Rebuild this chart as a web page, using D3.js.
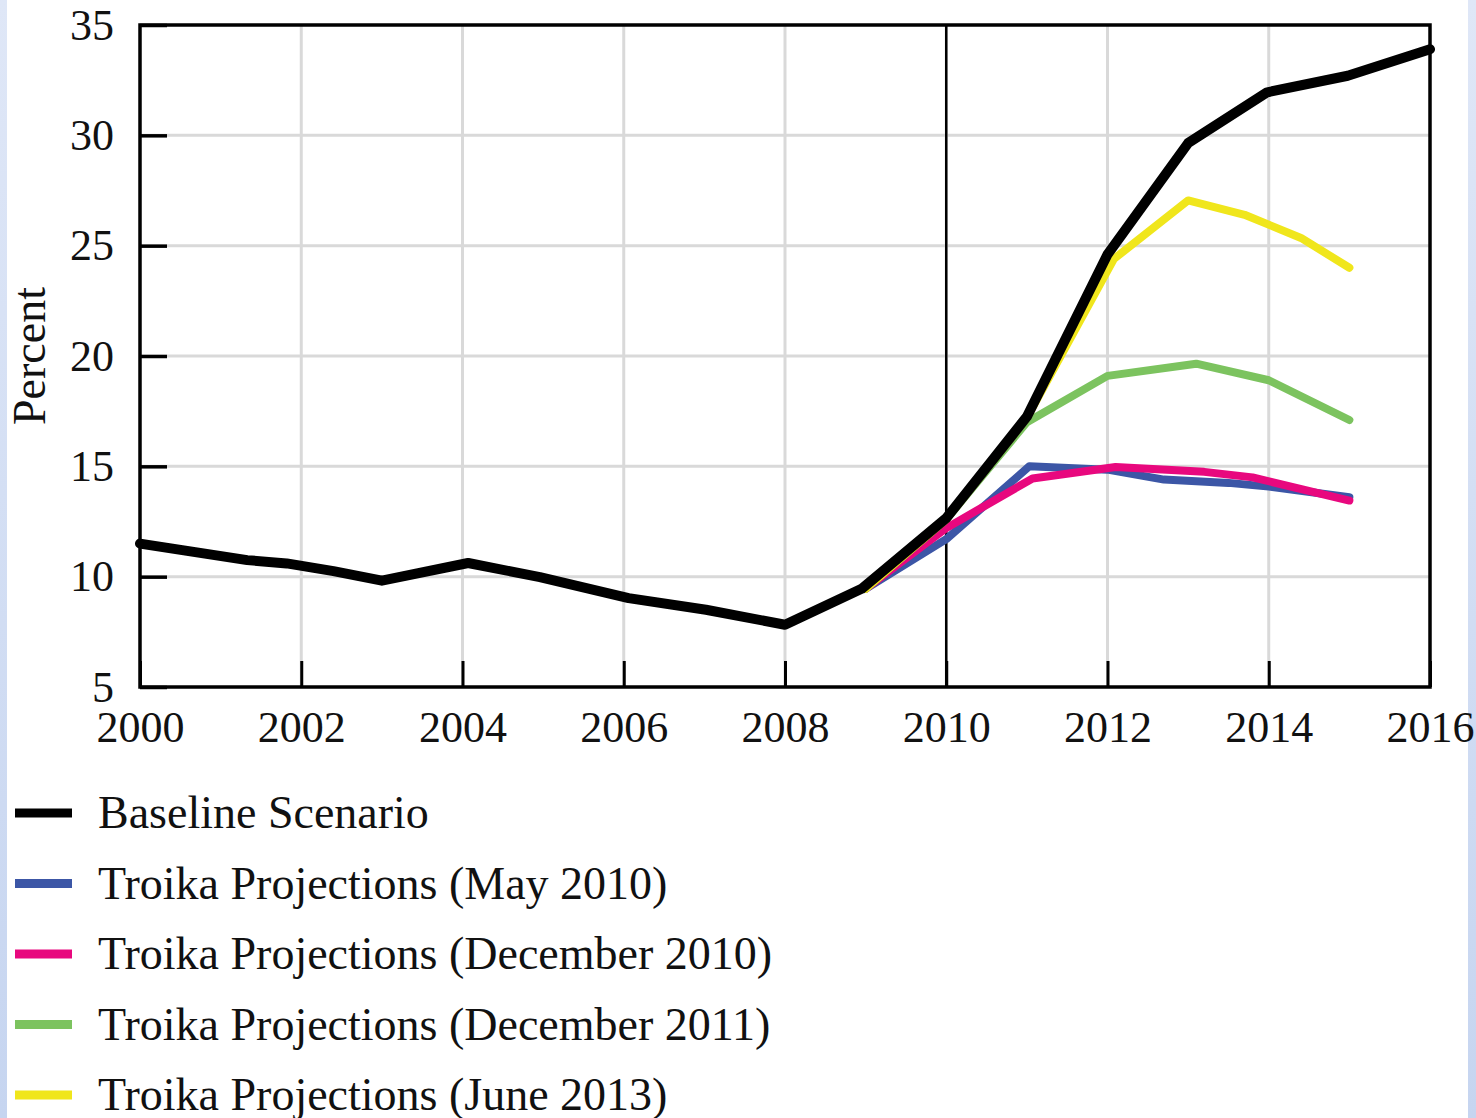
<!DOCTYPE html>
<html><head><meta charset="utf-8">
<script src="https://cdn.jsdelivr.net/npm/d3@7"></script>
<style>
html,body{margin:0;padding:0;background:#fff;}
svg{display:block;}
text{font-family:"Liberation Serif","DejaVu Serif",serif;fill:#111;}
</style></head>
<body>
<svg id="chart" width="1476" height="1118"></svg>
<script>
// ---- data ----
const xTicks = [2000, 2002, 2004, 2006, 2008, 2010, 2012, 2014, 2016];
const yTicks = [5, 10, 15, 20, 25, 30, 35];

const baselineYears  = [2000, 2001.33, 2001.82, 2002.4, 2003, 2004.07, 2004.96, 2006.06, 2007.02, 2008, 2008.95, 2010, 2011, 2012, 2013, 2013.98, 2014.98, 2016];
const baselineValues = [11.5, 10.75, 10.6, 10.25, 9.82, 10.62, 9.98, 9.03, 8.5, 7.82, 9.45, 12.65, 17.25, 24.6, 29.65, 31.95, 32.7, 33.9];

const may2010Years  = [2009, 2010, 2011.03, 2012, 2012.7, 2013.5, 2014, 2015];
const may2010Values = [9.45, 11.7, 15.0, 14.85, 14.4, 14.25, 14.08, 13.6];

const dec2010Years  = [2009, 2010, 2011.07, 2012.1, 2013.2, 2013.8, 2015];
const dec2010Values = [9.45, 12.2, 14.45, 14.97, 14.75, 14.5, 13.45];

const dec2011Years  = [2009, 2010, 2011, 2012, 2013.1, 2014, 2015];
const dec2011Values = [9.45, 12.6, 17.0, 19.1, 19.65, 18.9, 17.1];

const jun2013Years  = [2009, 2010, 2011, 2012.08, 2013, 2013.7, 2014.4, 2015];
const jun2013Values = [9.45, 12.6, 17.2, 24.4, 27.05, 26.4, 25.35, 24.0];

const seriesNames  = ["Baseline Scenario", "Troika Projections (May 2010)", "Troika Projections (December 2010)", "Troika Projections (December 2011)", "Troika Projections (June 2013)"];
const seriesColors = ["#000000", "#3c56a6", "#e8087e", "#7cc35f", "#f0e61c"];

// ---- layout ----
const svg = d3.select("#chart");
const L = 140, R = 1430, T = 25, B = 687;
const x = d3.scaleLinear().domain([2000, 2016]).range([L, R]);
const y = d3.scaleLinear().domain([5, 35]).range([B, T]);

// side strips
const grad = svg.append("defs").append("linearGradient").attr("id","strip").attr("x1",0).attr("x2",0).attr("y1",0).attr("y2",1);
grad.append("stop").attr("offset","0%").attr("stop-color","#dfe7f7");
grad.append("stop").attr("offset","100%").attr("stop-color","#c6d5f0");
svg.append("rect").attr("x",0).attr("y",0).attr("width",7).attr("height",1118).attr("fill","url(#strip)");
svg.append("rect").attr("x",1468).attr("y",0).attr("width",8).attr("height",1118).attr("fill","url(#strip)");

// grid
const g = svg.append("g");
g.selectAll(".vg").data(xTicks.slice(1, -1)).join("line")
  .attr("x1", d => x(d)).attr("x2", d => x(d)).attr("y1", T).attr("y2", B)
  .attr("stroke", "#d9d9d9").attr("stroke-width", 3);
g.selectAll(".hg").data(yTicks.slice(1, -1)).join("line")
  .attr("x1", L).attr("x2", R).attr("y1", d => y(d)).attr("y2", d => y(d))
  .attr("stroke", "#d9d9d9").attr("stroke-width", 3);

// axes with inward ticks
const yAxis = d3.axisLeft(y).tickValues(yTicks).tickSize(-27).tickPadding(0).tickFormat(d3.format("d"));
const ya = svg.append("g").attr("transform", `translate(${L},0)`).call(yAxis);
ya.select(".domain").remove();
ya.selectAll(".tick line").attr("stroke", "#000").attr("stroke-width", 3.5);
ya.selectAll(".tick text").attr("x", -26).attr("dy", "0.32em").style("font-size", "44px").style("font-family", '"Liberation Serif",serif').attr("fill", "#111");

const xAxis = d3.axisBottom(x).tickValues(xTicks).tickSize(-26).tickPadding(0).tickFormat(d3.format("d"));
const xa = svg.append("g").attr("transform", `translate(0,${B})`).call(xAxis);
xa.select(".domain").remove();
xa.selectAll(".tick line").attr("stroke", "#000").attr("stroke-width", 3);
xa.selectAll(".tick text").attr("y", 55).attr("dy", 0).style("font-size", "44px").style("font-family", '"Liberation Serif",serif').attr("fill", "#111");

// 2010 vertical line
svg.append("line").attr("x1", x(2010)).attr("x2", x(2010)).attr("y1", T).attr("y2", B)
  .attr("stroke", "#000").attr("stroke-width", 2.5);

// lines
const line = d3.line().x(d => x(d[0])).y(d => y(d[1]));
const zip = (a, b) => a.map((v, i) => [v, b[i]]);
const drawOrder = [
  [zip(may2010Years, may2010Values), 1, 8],
  [zip(dec2010Years, dec2010Values), 2, 8],
  [zip(dec2011Years, dec2011Values), 3, 8],
  [zip(jun2013Years, jun2013Values), 4, 8],
  [zip(baselineYears, baselineValues), 0, 10]
];
drawOrder.forEach(([pts, ci, w]) => {
  svg.append("path").datum(pts).attr("d", line)
    .attr("fill", "none").attr("stroke", seriesColors[ci]).attr("stroke-width", w)
    .attr("stroke-linejoin", "round").attr("stroke-linecap", "round");
});

// frame
svg.append("rect").attr("x", L).attr("y", T).attr("width", R - L).attr("height", B - T)
  .attr("fill", "none").attr("stroke", "#000").attr("stroke-width", 3.5);

// y label
svg.append("text").attr("transform", `translate(45,356) rotate(-90)`)
  .attr("text-anchor", "middle").style("font-size", "46px").text("Percent");

// legend
const leg = svg.append("g");
const legY = d3.scalePoint().domain(seriesNames).range([813, 1095]);
seriesNames.forEach((n, i) => {
  leg.append("line").attr("x1", 15).attr("x2", 72).attr("y1", legY(n)).attr("y2", legY(n))
    .attr("stroke", seriesColors[i]).attr("stroke-width", 9);
  leg.append("text").attr("x", 98).attr("y", legY(n)).attr("dy", "0.33em")
    .style("font-size", "46px").text(n);
});
</script>
</body></html>
